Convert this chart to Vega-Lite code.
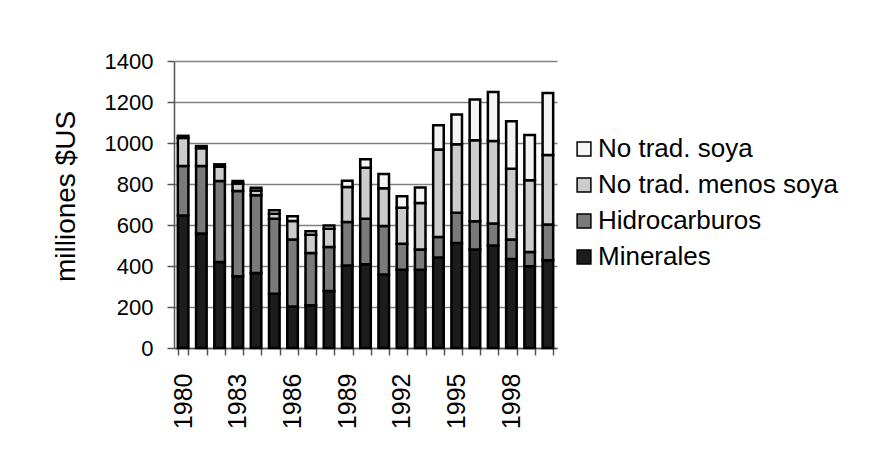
{
  "$schema": "https://vega.github.io/schema/vega-lite/v6.json",
  "autosize": {"type": "none"},
  "width": 383,
  "height": 287,
  "padding": {"left": 174, "top": 61, "right": 312, "bottom": 120},
  "background": "white",
  "config": {
    "view": {"stroke": null},
    "font": "Liberation Sans",
    "axis": {"labelFont": "Liberation Sans", "titleFont": "Liberation Sans", "labelColor": "black", "titleColor": "black"},
    "legend": {"labelFont": "Liberation Sans"}
  },
  "datasets": {
    "exp": [
      {"anio": "1980", "serie": "Minerales", "valor": 646},
      {"anio": "1980", "serie": "Hidrocarburos", "valor": 242},
      {"anio": "1980", "serie": "No trad. menos soya", "valor": 137},
      {"anio": "1980", "serie": "No trad. soya", "valor": 10},
      {"anio": "1981", "serie": "Minerales", "valor": 558},
      {"anio": "1981", "serie": "Hidrocarburos", "valor": 330},
      {"anio": "1981", "serie": "No trad. menos soya", "valor": 87},
      {"anio": "1981", "serie": "No trad. soya", "valor": 10},
      {"anio": "1982", "serie": "Minerales", "valor": 420},
      {"anio": "1982", "serie": "Hidrocarburos", "valor": 395},
      {"anio": "1982", "serie": "No trad. menos soya", "valor": 69},
      {"anio": "1982", "serie": "No trad. soya", "valor": 12},
      {"anio": "1983", "serie": "Minerales", "valor": 350},
      {"anio": "1983", "serie": "Hidrocarburos", "valor": 416},
      {"anio": "1983", "serie": "No trad. menos soya", "valor": 36},
      {"anio": "1983", "serie": "No trad. soya", "valor": 13},
      {"anio": "1984", "serie": "Minerales", "valor": 366},
      {"anio": "1984", "serie": "Hidrocarburos", "valor": 379},
      {"anio": "1984", "serie": "No trad. menos soya", "valor": 23},
      {"anio": "1984", "serie": "No trad. soya", "valor": 14},
      {"anio": "1985", "serie": "Minerales", "valor": 265},
      {"anio": "1985", "serie": "Hidrocarburos", "valor": 366},
      {"anio": "1985", "serie": "No trad. menos soya", "valor": 24},
      {"anio": "1985", "serie": "No trad. soya", "valor": 17},
      {"anio": "1986", "serie": "Minerales", "valor": 203},
      {"anio": "1986", "serie": "Hidrocarburos", "valor": 326},
      {"anio": "1986", "serie": "No trad. menos soya", "valor": 91},
      {"anio": "1986", "serie": "No trad. soya", "valor": 23},
      {"anio": "1987", "serie": "Minerales", "valor": 208},
      {"anio": "1987", "serie": "Hidrocarburos", "valor": 255},
      {"anio": "1987", "serie": "No trad. menos soya", "valor": 89},
      {"anio": "1987", "serie": "No trad. soya", "valor": 17},
      {"anio": "1988", "serie": "Minerales", "valor": 278},
      {"anio": "1988", "serie": "Hidrocarburos", "valor": 215},
      {"anio": "1988", "serie": "No trad. menos soya", "valor": 89},
      {"anio": "1988", "serie": "No trad. soya", "valor": 16},
      {"anio": "1989", "serie": "Minerales", "valor": 403},
      {"anio": "1989", "serie": "Hidrocarburos", "valor": 212},
      {"anio": "1989", "serie": "No trad. menos soya", "valor": 170},
      {"anio": "1989", "serie": "No trad. soya", "valor": 31},
      {"anio": "1990", "serie": "Minerales", "valor": 408},
      {"anio": "1990", "serie": "Hidrocarburos", "valor": 223},
      {"anio": "1990", "serie": "No trad. menos soya", "valor": 248},
      {"anio": "1990", "serie": "No trad. soya", "valor": 42},
      {"anio": "1991", "serie": "Minerales", "valor": 358},
      {"anio": "1991", "serie": "Hidrocarburos", "valor": 237},
      {"anio": "1991", "serie": "No trad. menos soya", "valor": 184},
      {"anio": "1991", "serie": "No trad. soya", "valor": 70},
      {"anio": "1992", "serie": "Minerales", "valor": 382},
      {"anio": "1992", "serie": "Hidrocarburos", "valor": 127},
      {"anio": "1992", "serie": "No trad. menos soya", "valor": 175},
      {"anio": "1992", "serie": "No trad. soya", "valor": 56},
      {"anio": "1993", "serie": "Minerales", "valor": 382},
      {"anio": "1993", "serie": "Hidrocarburos", "valor": 98},
      {"anio": "1993", "serie": "No trad. menos soya", "valor": 227},
      {"anio": "1993", "serie": "No trad. soya", "valor": 76},
      {"anio": "1994", "serie": "Minerales", "valor": 441},
      {"anio": "1994", "serie": "Hidrocarburos", "valor": 100},
      {"anio": "1994", "serie": "No trad. menos soya", "valor": 427},
      {"anio": "1994", "serie": "No trad. soya", "valor": 118},
      {"anio": "1995", "serie": "Minerales", "valor": 512},
      {"anio": "1995", "serie": "Hidrocarburos", "valor": 148},
      {"anio": "1995", "serie": "No trad. menos soya", "valor": 334},
      {"anio": "1995", "serie": "No trad. soya", "valor": 145},
      {"anio": "1996", "serie": "Minerales", "valor": 480},
      {"anio": "1996", "serie": "Hidrocarburos", "valor": 138},
      {"anio": "1996", "serie": "No trad. menos soya", "valor": 395},
      {"anio": "1996", "serie": "No trad. soya", "valor": 199},
      {"anio": "1997", "serie": "Minerales", "valor": 500},
      {"anio": "1997", "serie": "Hidrocarburos", "valor": 107},
      {"anio": "1997", "serie": "No trad. menos soya", "valor": 403},
      {"anio": "1997", "serie": "No trad. soya", "valor": 239},
      {"anio": "1998", "serie": "Minerales", "valor": 434},
      {"anio": "1998", "serie": "Hidrocarburos", "valor": 95},
      {"anio": "1998", "serie": "No trad. menos soya", "valor": 346},
      {"anio": "1998", "serie": "No trad. soya", "valor": 231},
      {"anio": "1999", "serie": "Minerales", "valor": 399},
      {"anio": "1999", "serie": "Hidrocarburos", "valor": 69},
      {"anio": "1999", "serie": "No trad. menos soya", "valor": 350},
      {"anio": "1999", "serie": "No trad. soya", "valor": 221},
      {"anio": "2000", "serie": "Minerales", "valor": 428},
      {"anio": "2000", "serie": "Hidrocarburos", "valor": 174},
      {"anio": "2000", "serie": "No trad. menos soya", "valor": 339},
      {"anio": "2000", "serie": "No trad. soya", "valor": 303}
    ]
  },
  "data": {"name": "exp"},
  "transform": [
    {"calculate": "indexof(['Minerales','Hidrocarburos','No trad. menos soya','No trad. soya'], datum.serie)", "as": "orden"}
  ],
  "mark": {"type": "bar", "stroke": "black", "strokeWidth": 2.5},
  "encoding": {
    "x": {
      "field": "anio", "type": "ordinal", "title": null,
      "scale": {"paddingInner": 0.42},
      "axis": {
        "labelAngle": -90, "labelAlign": "right", "labelBaseline": "middle",
        "labelFontSize": 25, "labelPadding": 18,
        "labelExpr": "(toNumber(datum.value) - 1980) % 3 == 0 ? datum.value : ''",
        "tickBand": "extent", "tickSize": 7, "tickColor": "#555555", "tickWidth": 1.5,
        "domainColor": "#555555", "domainWidth": 1.5, "grid": false
      }
    },
    "y": {
      "field": "valor", "type": "quantitative", "stack": "zero",
      "scale": {"domain": [0, 1400], "nice": false},
      "title": "milliones $US",
      "axis": {
        "values": [0, 200, 400, 600, 800, 1000, 1200, 1400],
        "format": "d",
        "labelFontSize": 22, "labelPadding": 14,
        "titleFontSize": 28, "titleFontWeight": "normal", "titlePadding": 24,
        "titleAnchor": "middle", "titleY": 135,
        "tickSize": 7, "tickColor": "#555555", "tickWidth": 1.5,
        "domainColor": "#555555", "domainWidth": 1.5,
        "grid": true, "gridColor": "#808080", "gridWidth": 1.5
      }
    },
    "color": {
      "field": "serie", "type": "nominal",
      "scale": {
        "domain": ["No trad. soya", "No trad. menos soya", "Hidrocarburos", "Minerales"],
        "range": ["#f4f4f4", "#cccccc", "#7a7a7a", "#1c1c1c"]
      },
      "legend": {
        "title": null, "orient": "none", "legendX": 397, "legendY": 75,
        "symbolType": "square", "symbolSize": 190, "symbolStrokeColor": "black", "symbolStrokeWidth": 1.5,
        "symbolOpacity": 1, "labelLimit": 400,
        "labelFontSize": 26, "labelColor": "black", "labelOffset": 1, "rowPadding": 10
      }
    },
    "order": {"field": "orden", "type": "quantitative", "sort": "ascending"}
  }
}
